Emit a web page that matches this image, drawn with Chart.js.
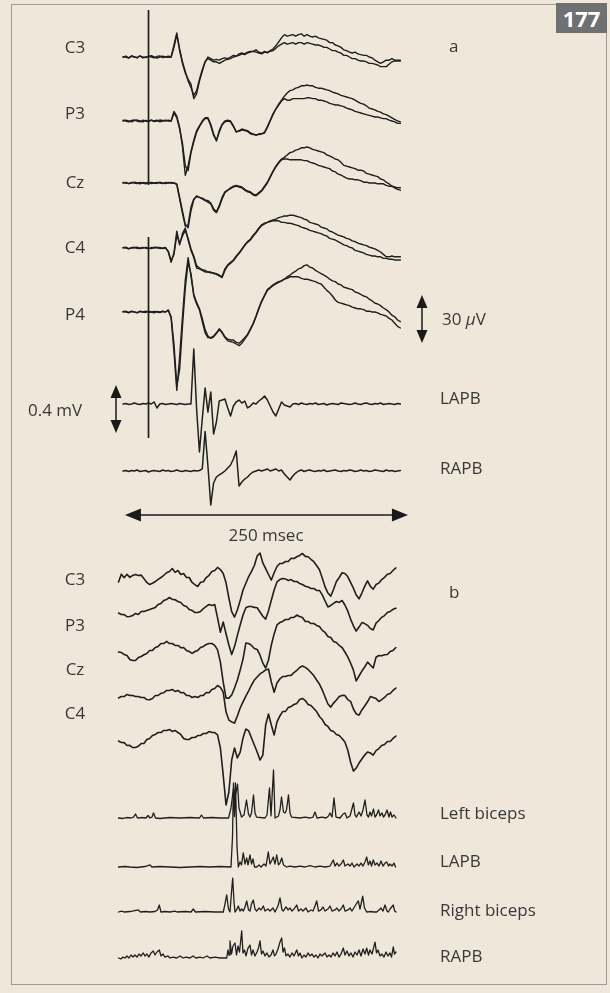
<!DOCTYPE html>
<html>
<head>
<meta charset="utf-8">
<script src="https://cdn.jsdelivr.net/npm/chart.js@4.4.1/dist/chart.umd.min.js"></script>
<style>
  html, body { margin: 0; padding: 0; background: #efe8da; }
  #fig { position: relative; width: 610px; height: 993px; overflow: hidden;
         font-family: "Open Sans", "Noto Sans", sans-serif; color: #383838; }
  #frame { position: absolute; left: 11px; top: 4px; width: 596px; height: 981px;
           border: 1.5px solid #9c9c9c; box-sizing: border-box; }
  #plot { position: absolute; left: 0; top: 0; }
  .lbl { position: absolute; font-size: 17px; line-height: 1; white-space: nowrap;
         transform: translateY(-50%); }
  .ctr { transform: translate(-50%, -50%); }
  #tag { position: absolute; left: 556px; top: 3px; width: 51px; height: 30px;
         background: #6f7072; color: #fff; font-weight: 700; font-size: 22px;
         display: flex; align-items: center; justify-content: center; }
</style>
</head>
<body>
<div id="fig">
  <div id="frame"></div>
  <canvas id="plot" width="610" height="993"></canvas>
  <div id="tag">177</div>

  <div class="lbl ctr" style="left:75px;top:46px">C3</div>
  <div class="lbl ctr" style="left:75px;top:112px">P3</div>
  <div class="lbl ctr" style="left:75px;top:181px">Cz</div>
  <div class="lbl ctr" style="left:75px;top:246px">C4</div>
  <div class="lbl ctr" style="left:75px;top:313px">P4</div>
  <div class="lbl" style="left:449px;top:45px">a</div>
  <div class="lbl" style="left:442px;top:318px">30 <i>μ</i>V</div>
  <div class="lbl" style="left:28px;top:409px">0.4 mV</div>
  <div class="lbl" style="left:440px;top:397px">LAPB</div>
  <div class="lbl" style="left:440px;top:467px">RAPB</div>
  <div class="lbl ctr" style="left:266px;top:534px">250 msec</div>

  <div class="lbl ctr" style="left:75px;top:578px">C3</div>
  <div class="lbl ctr" style="left:75px;top:624px">P3</div>
  <div class="lbl ctr" style="left:75px;top:668px">Cz</div>
  <div class="lbl ctr" style="left:75px;top:712px">C4</div>
  <div class="lbl" style="left:449px;top:591px">b</div>
  <div class="lbl" style="left:440px;top:812px">Left biceps</div>
  <div class="lbl" style="left:440px;top:860px">LAPB</div>
  <div class="lbl" style="left:440px;top:909px">Right biceps</div>
  <div class="lbl" style="left:440px;top:955px">RAPB</div>
</div>

<script>
// ---------- Panel a: averaged potentials, two superimposed averages per scalp channel ----------
// sample clock: 2.5 ms, first sample 22.5 ms before the stimulus (t = 0)
const SAMPLE_MS_A = 2.5;
const START_MS_A = -22.5;

// scalp channels, µV (positive up)
const c3Upper = [0, 0.6, -0.5, 0.4, 0, -0.6, 0.6, 0, -0.4, 0.6,
  0, -0.6, 0.4, 0.7, -0.4, 0, 0.6, 0, 7.5, 15,
  4, -4, -10, -14, -17, -26, -23, -15, -9, -3,
  0, -1, -2, -1.5, -2, -1, -0.5, -1, 0, 1,
  0.5, 2, 2.5, 2, 3, 3.5, 3.5, 4.5, 3, 2.5,
  3.5, 2.5, 4, 5, 7, 9.5, 12, 14, 13, 13.5,
  14, 13, 14, 14.5, 13, 14, 13, 12.5, 13, 12,
  11.5, 11, 10.5, 9, 9, 7.5, 7, 6, 4.5, 4,
  3, 2.5, 3, 2, 1.5, 1, 1, 0, -0.5, -2,
  -3, -4, -3, -2, -2, -1, -2, -2, -2];
const c3Lower = [0, 0, -0.7, 0.8, 0, -0.3, 0.8, -0.6, 0, 0.3,
  0.8, 0, -0.7, 0, 0.6, 0, -0.2, 0, 6, 14,
  5, -3, -9, -15, -19, -24, -21, -14, -8, -3,
  -1, -2, -3, -3, -4, -3, -2, -1.5, -1, 0,
  0.5, 1, 2, 1.5, 2.5, 3, 3.5, 3, 2.5, 2,
  3, 3, 3.5, 4, 5.5, 7, 8, 9, 8, 8.5,
  9, 8, 9, 9, 8, 9, 8.5, 8, 7.5, 7.5,
  7, 6, 6, 5, 4, 4, 3, 2.5, 1, 1,
  0, -1, -1, -2, -2.5, -2.5, -3, -4, -4, -4.5,
  -5, -6, -6, -6, -4.5, -3, -2.5, -2.5, -2.5];
const p3Upper = [0.5, 0, -0.6, 0.4, 0.6, 0, -0.5, 0.5, 0, -0.4,
  0.6, 0, 0.5, -0.5, 0, 0.6, 0, 0, 6, 3,
  -4, -16, -34, -28, -19, -12, -6, -3, 0, 2,
  2, -2, -8, -12.5, -6, -2, 0, 0.5, 0, -3,
  -7, -6, -5, -5.5, -6, -7.5, -8, -9, -8, -8,
  -7.5, -4, 0, 4, 7.5, 10.5, 13, 15.5, 17.5, 19,
  19.5, 20.5, 21, 22, 22, 22.5, 22, 22, 21, 20.5,
  20.5, 20, 19.5, 19, 18, 17.5, 17, 16, 15.5, 15,
  14.5, 14, 13, 12, 11, 10.5, 9.5, 8, 7.5, 7,
  6, 5.5, 4.5, 4, 3, 2, 1, 0, -0.5];
const p3Lower = [0, 0.5, 0, -0.5, 0.3, 0.6, 0, -0.6, 0.4, 0,
  0.5, -0.4, 0, 0.6, 0.3, 0, 0.5, 0, 5, 2,
  -5, -14, -28, -31, -20, -13, -7, -3.5, -0.5, 1.5,
  1.5, -3, -9, -12, -7, -2.5, -0.5, 0, -0.5, -3.5,
  -6.5, -6.5, -5.5, -6, -6.5, -8, -8.5, -8.5, -8.5, -8,
  -7, -3.5, 0.5, 4.5, 7.5, 10, 12.5, 14, 13, 13,
  14, 14, 14, 14, 14, 14.5, 14.5, 14, 14, 13,
  13, 12.5, 12, 11, 10.5, 10, 10, 9.5, 9, 8,
  7.5, 7, 6, 5.5, 5, 4.5, 4, 3.5, 3, 2.5,
  2.5, 2, 1.5, 1.5, 0.5, 0, -0.5, -1.5, -1.5];
const czUpper = [0, 0.4, -0.4, 0, 0.5, 0, -0.5, 0.3, 0, 0.4,
  -0.3, 0, 0.4, 0, -0.4, 0.3, 0, 0.3, 0, -0.6,
  -9, -17.5, -26, -28, -17.5, -10.5, -8, -9, -9.5, -10.5,
  -11, -12.5, -16, -18, -14, -9, -5.5, -4.5, -3, -2,
  -1.5, -2, -2.5, -4, -5, -5.5, -7, -7.5, -6, -4.5,
  -2, 0.5, 4, 7.5, 10.5, 13, 15, 16, 17.5, 19,
  19.5, 20.5, 21, 22, 22, 22.5, 22, 21, 20.5, 20,
  19.5, 19, 17.5, 17, 16, 15, 14.5, 13, 11, 10.5,
  10, 9.5, 9, 8, 8, 7.5, 6, 5.5, 5, 4.5,
  4, 2.5, 2, 0.5, -0.5, -2, -3, -4, -4.5];
const czLower = [0.3, 0, -0.4, 0.4, 0, -0.3, 0.4, 0, -0.5, 0,
  0.4, 0, -0.3, 0.5, 0, -0.4, 0.3, 0, 0, -1,
  -10, -19, -27, -26, -15, -10, -8.5, -9, -10, -11,
  -12, -13, -17, -18.5, -15, -10, -6, -4.5, -3.5, -2.5,
  -2, -2.5, -3, -4.5, -5.5, -6, -7.5, -8, -6.5, -5,
  -2.5, 0, 3.5, 7, 10, 12.5, 14.5, 15, 15, 14.5,
  14.5, 14.5, 14.5, 14.5, 14, 14, 13, 12.5, 12, 11,
  10.5, 10, 9.5, 9, 7.5, 7, 5.5, 5, 4, 3,
  2.5, 2.5, 2, 2, 1.5, 0.5, 0.5, 0, 0, 0,
  -0.5, -0.5, -0.5, -1.5, -2, -2, -2.5, -3, -3];
const c4Upper = [0, 0.5, -0.4, 0, 0.5, -0.3, 0, 0.4, 0, -0.5,
  0.3, 0, 0.5, -0.3, 0, 0.4, -2.5, -9, -3, 10.5,
  2, 9, 12.5, 5, -1.5, -6, -12.5, -13, -14, -15,
  -15, -15.5, -15.5, -16, -17, -18, -13, -10.5, -9, -7.5,
  -5, -3, -0.5, 2, 4, 5.5, 8, 10, 12.5, 14.5,
  15.5, 16, 17, 17.5, 18, 19, 19.5, 20, 20, 20.5,
  20.5, 20, 19.5, 19, 18, 17.5, 16, 15.5, 15, 14.5,
  13, 12.5, 12, 10.5, 10, 9, 8, 7.5, 7, 6,
  5.5, 4.5, 4, 3, 2.5, 2, 1.5, 0.5, 0, -0.5,
  -1.5, -2.5, -4, -5.5, -5.5, -5, -5.5, -5.5, -5.5];
const c4Lower = [0.4, 0, -0.5, 0.3, 0, 0.5, -0.4, 0, 0.4, 0,
  -0.4, 0.5, 0, 0.3, -0.4, 0, -2, -8, -4, 8,
  3, 7.5, 11, 6, -0.5, -5, -11, -12.5, -13.5, -14,
  -15, -15, -16, -16.5, -17.5, -18.5, -14, -11, -9.5, -8,
  -5.5, -3.5, -1, 1.5, 3.5, 5, 7.5, 9.5, 12, 14,
  15, 16, 16.5, 17, 17, 17, 16, 16, 15.5, 15.5,
  15, 14.5, 14, 13, 12.5, 12, 11, 10.5, 10, 9.5,
  9, 8, 7.5, 6, 5.5, 5, 4, 3, 2, 1.5,
  0.5, 0, -1.5, -2, -2.5, -3, -4, -4.5, -5, -5,
  -5.5, -5.5, -6.5, -6.5, -7, -7, -7.5, -7.5, -7.5];
const p4Upper = [0, 0.5, -0.5, 0.3, 0, -0.4, 0.5, 0, -0.3, 0.5,
  0, -0.5, 0.4, 0, 0.5, 0, 1.3, -4, -25, -49,
  -28, -3, 20, 34, 22.5, 10, 5, 1.3, -6, -13,
  -16, -16, -15, -13, -10.5, -12.5, -15.5, -17, -17.5, -17.5,
  -19, -19.5, -18, -16, -14, -10.5, -7, -2.5, 2.5, 7,
  10.5, 14, 15.5, 17, 18, 19, 19.5, 20.5, 22, 23,
  24.5, 25.5, 27, 27.5, 29, 29.5, 28, 27.5, 26, 25,
  24, 23, 22, 20.5, 19.5, 19, 17.5, 17, 15.5, 15,
  14.5, 14, 12.5, 12, 11, 10, 9.5, 8, 7, 5.5,
  5, 4, 2.5, 1.5, 0, -2, -3, -5, -6];
const p4Lower = [0.4, 0, -0.3, 0.5, 0, -0.5, 0.3, 0, 0.5, -0.3,
  0, 0.4, 0, -0.4, 0.3, 0, 1, -3, -20, -46,
  -36, -9, 15, 31, 24, 11, 6, 2, -4, -11,
  -15, -16.5, -15.5, -13.5, -11, -13, -16, -18, -18.5, -19,
  -20, -21, -19.5, -17, -14.5, -11, -7.5, -3, 2, 6.5,
  10, 13.5, 15, 16.5, 17.5, 18.5, 19.5, 20.5, 21, 22,
  22, 22, 22, 21, 20.5, 20.5, 20, 19.5, 19, 18,
  17.5, 15.5, 13.5, 12, 10, 7.5, 6, 5.5, 5, 4.5,
  4, 3, 2.5, 2, 2, 1.5, 0.5, 0.5, 0, 0,
  -0.5, -1.5, -2, -2.5, -4, -5, -7, -9, -10];

// thenar muscle responses, µV
const lapbA = [0, 4, -4, 0, 8, 0, -4, 4, 0, 8,
  0, 17, -33, 0, 4, -4, 0, 4, 0, -4,
  4, 0, -4, 0, 0, 458, -42, -400, -125, 133,
  -67, 100, -250, -150, 25, 33, 42, -33, -100, -17,
  17, 33, 8, 25, -33, -17, 8, 0, 25, 42,
  67, 33, -17, -67, -100, -42, 17, -8, -17, -25,
  0, 4, -4, 8, 0, -4, 4, 0, 8, -4,
  0, 4, -8, 0, 4, 0, -4, 8, 4, 0,
  -4, 0, 8, 0, -4, 4, 8, 0, -4, 4,
  0, 8, -4, 0, 4, 0, -4, 4, 0];
const rapbA = [0, 4, -4, 4, 0, 8, -4, 0, 4, -8,
  0, 4, 0, -4, 8, 0, 4, -4, 0, 8,
  0, -4, 4, 0, -4, 4, 0, 4, 17, 330,
  42, -283, -100, -50, -33, -17, 0, 25, 50, 100,
  167, -125, -92, -67, -50, -25, -8, 0, 8, 0,
  8, 17, 0, 8, 17, 0, 8, -25, -50, -75,
  -42, -17, 0, 8, -4, 4, 8, 0, -4, 4,
  0, 8, -4, 0, 4, 8, 0, -4, 4, 0,
  8, 4, -4, 0, 8, 0, 4, -4, 0, 8,
  4, 0, -4, 8, 0, 4, -4, 0, 4];

// calibration bars
const CAL_EEG_UV = 30;      // "30 µV"
const CAL_EMG_UV = 400;     // "0.4 mV"
const CAL_TIME_MS = 250;    // "250 msec"

// ---------- Panel b: single sweep, 2.83 ms sample clock ----------
const SAMPLE_MS_B = 2.83;
const eegB1 = [-2.5, 2.4, 0.2, 2.3, 0.4, 1.6, 2.2, 1.6, 1.8, -0.4,
  -2.8, -4.1, -3.3, -2.2, -0.9, 0.3, 1.7, 3.3, 4.1, 5.9,
  3.5, 4.7, 2.2, 2.8, 0.3, 0.3, -2.8, -4.1, -5.3, -2.7,
  -2.3, 0.3, 1.7, 4.1, 4.7, 6.6, 5.3, 2.8, -3, -12.5,
  -21, -24.4, -20, -14, -7.5, -3.3, 0.9, 4.1, 7.8, 13.8,
  15.6, 9.4, 5.9, 2.2, -1.3, 3.3, 7.2, 9.1, 9.1, 10.3,
  10.3, 12.3, 12.2, 13.3, 14.1, 15.3, 13.5, 13.3, 11.7, 10.2,
  7.8, 5.2, 0, -5.6, -9.4, -11.3, -7, -2.2, 0.3, 3.3,
  2.8, 0.9, -2.7, -6.3, -10.6, -13, -9.4, -5.2, -1.8, -5.2,
  -7, -4.1, -3.2, -1, 0.4, 2.3, 2.8, 4.7, 6.3];
const eegB2 = [0, -0.9, -1, -2.3, -2.2, -1.6, -0.3, -0.9, 0.9, 1,
  1.6, 2.2, 2.8, 3.5, 5.3, 6, 7.8, 8.5, 9.7, 8.5,
  8.3, 7.2, 6.6, 4.7, 4.1, 2.2, 1.6, 0.3, 0.3, 1,
  2.8, 4.1, 5.3, 4.7, 5.3, -3, -12, -5.6, -13, -20,
  -26, -21, -14, -7.5, -1.3, 3.3, 4.1, 4.1, 3.5, 3.3,
  0.6, -2, -3.8, 1.3, 8, 14.4, 19.4, 20.9, 21.6, 21.3,
  20.3, 20.9, 19.7, 19.7, 18.5, 17.8, 16.7, 16.3, 15.3, 15.3,
  14.1, 14.1, 11.3, 7.5, 3.8, 4.7, 6, 7.2, 6.6, 7.8,
  5, 1.3, -3.8, -8, -11.3, -8.8, -6, -6.6, -7.7, -9.7,
  -10.6, -6.3, -4.7, -2.7, -1.6, 0.3, 1, 2.3, 3];
const eegB3 = [0, -0.3, -1.6, -2.2, -4.7, -5.3, -5.3, -3.5, -2.8, -1.7,
  -0.9, 0.9, 1, 2.8, 3.5, 5.3, 5.3, 6.6, 5.3, 5.3,
  4.1, 4.1, 2.7, 2.8, 1, 0.3, -0.9, 0.3, 1, 2.8,
  3.5, 4.7, 5.3, 5.3, 4.1, 1.3, -6.3, -18.8, -28.8, -28.8,
  -26.9, -22.5, -17.5, -11.3, -4.4, 5.6, 5.3, 4.1, 2.2, 1.6,
  -2, -6.9, -10, -5, 4.4, 11.3, 16.9, 18.4, 19.1, 20.3,
  20.3, 21.6, 21.6, 23.1, 22.2, 21.6, 19.1, 19.1, 17.8, 17.8,
  16.6, 15.9, 13.5, 12.2, 9.7, 9.1, 6.6, 5.9, 4.1, 2.8,
  0, -3, -6.9, -11.3, -18.1, -15, -11.9, -9.4, -6.3, -8.1,
  -10, -3.3, -2.2, -2.3, -1.7, -1.6, 0.3, 1, 2.8];
const eegB4 = [-0.6, 0.3, 0.3, 1.6, 1, 0.9, 0.3, 0.3, -0.3, -0.3,
  -1.6, -1.7, -0.9, 0.9, 1, 2.3, 2.7, 4.1, 4.1, 4.7,
  3.5, 4.1, 2.7, 2.8, 1, 0.9, -0.3, 0.3, -0.3, 0.9,
  1, 2.8, 2.7, 4.7, 5.3, 7.2, 6, 3, -9.4, -14.4,
  -15.6, -16.3, -11.9, -6.9, -3, 0.6, 3.8, 7.5, 10.6, 12.5,
  14.4, 15.6, 16.9, 17.5, 9.4, 3, 8.8, 11.3, 12.8, 12.8,
  13.4, 13.5, 15.3, 16.6, 18.4, 19.4, 18.5, 17.2, 15.3, 13.4,
  10.6, 8.1, 4.4, 0, -4.4, -6.3, -3.8, -1.9, 0.3, 1,
  0.9, -1.6, -2.7, -7.5, -10.6, -11.3, -8.1, -5.6, -3, 0.3,
  -0.3, -1, -2.8, -1.6, -0.3, 1.6, 2.2, 4.1, 5.6];
const eegB5 = [0, -0.9, -1, -2.8, -2.7, -4.1, -4.1, -3.3, -1.6, -1.6,
  0.9, 1.6, 3.4, 4.1, 5.3, 5.3, 6.6, 6.6, 7.2, 6,
  6.6, 5.3, 4.1, 1.6, 0.9, 1, 2.2, 2.2, 3.4, 3.5,
  4.7, 4.7, 5.9, 5.3, 5.3, 3.8, -4.4, -21.3, -40, -31.9,
  -11.9, -4.4, -10.6, -6.9, 1.9, 7.5, 6.3, 1.9, -2.5, -6.9,
  -11.9, -8.8, 10, 16.9, 10, 3.8, 11.9, 15.6, 18.4, 18.5,
  20.9, 21.6, 22.8, 23.5, 25.9, 26.6, 25.3, 22.8, 22.2, 20.3,
  18.4, 15.3, 13.4, 10.3, 9.1, 6.6, 5.9, 4.1, 3.4, 1.6,
  -0.6, -5.6, -13.1, -18.8, -16.9, -13.8, -11.3, -8.8, -6.9, -7.5,
  -8.8, -6, -4.7, -2.8, -2.2, -0.3, -0.3, 1.6, 3.1];

// rectified EMG, event times (ms) and amplitudes (µV)
const leftBicepsMs = [0, 4.5, 8.5, 12.5, 15, 17, 19, 22.5, 27.5, 29.5,
  31.5, 33.5, 35, 37, 41.5, 51.5, 61.5, 71.5, 81, 83,
  85, 93.5, 101.5, 110, 112.5, 115, 116.5, 119, 120.5, 123,
  125.5, 128, 130, 131.5, 133, 135, 136.5, 138, 146.5, 148.5,
  151, 152.5, 155, 156.5, 160, 161.5, 163, 165, 166.5, 168,
  170, 171.5, 173, 181.5, 186.5, 191.5, 194.5, 196.5, 198.5, 203.5,
  207.5, 210, 211.5, 213.5, 215.5, 217.5, 221.5, 224.5, 226.5, 228.5,
  231.5, 235, 236.5, 238, 240.5, 242.5, 244.5, 246.5, 248.5, 250,
  251.5, 253, 255, 256.5, 258, 260, 261.5, 263.5, 265, 266.5,
  268.5, 270.5, 272, 273.5, 275.5, 277.5];
const leftBicepsUv = [0, -4, 4, 0, 8, 33, 0, 4, 0, 21,
  0, 8, 42, 0, -4, 4, 0, 4, 0, 25,
  0, 4, 0, 0, 83, 250, 170, 283, 83, 8,
  25, 150, 33, 8, 42, 192, 42, 8, 0, 25,
  250, 17, 400, 0, 17, 67, 175, 50, 42, 67,
  192, 42, 8, 0, 8, 0, 8, 50, 0, 8,
  0, 17, 42, 8, 167, 8, 0, 33, 42, 0,
  17, 125, 25, 8, 50, 17, 67, 150, 25, 8,
  50, 17, 75, 8, 25, 67, 17, 42, 8, 25,
  67, 8, 50, 8, 25, 0];
const lapbBMs = [0, 6.5, 11.5, 18.5, 26.5, 31.5, 33.5, 41.5, 51.5, 61.5,
  71.5, 81.5, 91.5, 101.5, 112.5, 114, 115, 116, 117, 118.5,
  119.8, 121.5, 123, 124.8, 126.5, 128.2, 129.5, 131.5, 133, 134.5,
  136, 138.2, 140.5, 142.5, 145.5, 147.5, 149.8, 151.5, 153, 154.8,
  156.5, 158.2, 160, 161.5, 163.2, 165, 168.2, 171.5, 176.5, 181.5,
  186.5, 191.5, 196.5, 201.5, 206.5, 211.5, 214.8, 216.5, 218.5, 220.5,
  222.5, 224.8, 226.5, 229.5, 231.5, 233.5, 235.5, 238.5, 240.5, 242.5,
  244.5, 246.5, 248.2, 249.8, 251.5, 253, 254.8, 256.5, 258.5, 260.5,
  262.5, 264.5, 266.5, 268.2, 270, 271.5, 273.5, 275.5, 277];
const lapbBUv = [0, 4, 0, -4, 4, 17, 0, 4, 0, -4,
  0, 4, 0, 4, 0, 250, 700, 420, 700, 170,
  0, 42, 17, 117, 25, 75, 17, 100, 25, 67,
  0, 0, 17, 0, 25, 8, 125, 25, 50, 83,
  25, 100, 17, 33, 75, 17, 0, 8, 0, 8,
  0, 12, 0, 8, 0, 8, 58, 8, 33, 8,
  25, 58, 8, 25, 8, 33, 0, 25, 8, 33,
  8, 42, 83, 17, 50, 8, 58, 17, 33, 8,
  50, 8, 33, 42, 8, 25, 8, 33, 0];
const rightBicepsMs = [0, 3.2, 5.5, 11.5, 19.8, 22, 26.5, 31.5, 36.5, 39,
  40.8, 42.5, 46.5, 51.5, 56.5, 58.5, 66.5, 72.5, 74.8, 77,
  86.5, 96.5, 104.8, 106.5, 108.2, 110, 111.5, 113, 114.2, 115.5,
  116.5, 118, 119.8, 121.5, 123, 124.8, 126.5, 128.2, 130, 131.5,
  133, 134.8, 136.5, 138.2, 140.5, 142.5, 144.8, 146.5, 149.5, 151.5,
  154.5, 156.5, 159.5, 161.5, 163.5, 164.8, 167.5, 169.5, 171.5, 173.5,
  175.5, 178.2, 180, 182.5, 184.5, 187.5, 189.5, 192.5, 194.5, 196.5,
  198.2, 200, 202.5, 204.5, 206.5, 209.5, 211.5, 213.5, 216.5, 218.5,
  220.5, 222.5, 224.8, 226.5, 229.5, 231.5, 233.5, 236.5, 239.8, 241.5,
  244.2, 246, 248.2, 251.5, 255.5, 258.2, 260.5, 262.5, 264.5, 266.5,
  268.5, 269.8, 271.5, 273.2, 274.8, 276.2, 277.5];
const rightBicepsUv = [0, 8, 0, 4, 17, 0, 4, 0, 4, 17,
  58, 0, 4, 0, 8, 0, 4, 0, 25, 0,
  4, 0, 0, 67, 142, 25, 0, 167, 283, 83,
  0, 17, 50, 8, 25, 8, 42, 92, 17, 8,
  67, 100, 25, 8, 33, 17, 50, 8, 25, 8,
  33, 0, 50, 117, 17, 8, 42, 17, 33, 8,
  25, 58, 8, 25, 8, 33, 0, 17, 8, 50,
  92, 8, 17, 42, 8, 25, 50, 8, 17, 33,
  8, 25, 58, 8, 17, 33, 8, 50, 92, 25,
  133, 33, 0, 4, 0, 0, 17, 33, 8, 58,
  8, 0, 25, 42, 58, 8, 0];
const rapbBMs = [0, 2.5, 4.5, 6.5, 8.5, 10.5, 12.5, 14.5, 16.5, 18.5,
  20.5, 22.5, 24.8, 26.5, 28.5, 30.5, 32.5, 34.8, 36.5, 38.5,
  40.8, 42.5, 44.5, 46.5, 49.5, 51.5, 54.5, 58.2, 61.5, 64.5,
  67.5, 71.5, 74.5, 77.5, 81.5, 84.5, 88.5, 91.5, 96.5, 101.5,
  108.2, 109.5, 110.5, 111.5, 113, 114.5, 116.5, 118, 119.5, 121,
  123.2, 124.5, 126, 127.5, 129.5, 131.5, 133, 134.5, 136.5, 138.5,
  140, 141.5, 143, 144.5, 146.5, 148.5, 150.5, 152.5, 154.5, 156,
  157.5, 159.5, 161.5, 163.2, 164.5, 166, 167.5, 169.5, 171.5, 173.5,
  175.5, 178.2, 180, 181.5, 183.5, 185.5, 187.5, 189.5, 191.5, 193.5,
  195.5, 197.5, 199.5, 201.5, 203.5, 206.5, 208.5, 210.5, 212.5, 214.5,
  216.5, 218.5, 220.5, 222.5, 224.8, 226.5, 228.5, 230.5, 232.5, 234.5,
  236.5, 238.5, 240.5, 242.5, 244.5, 246.5, 248.2, 250, 251.5, 253.5,
  255, 256.5, 258, 259.5, 261.5, 263.5, 265.5, 267.5, 269.5, 271.5,
  273, 274.8, 276, 277.5];
const rapbBUv = [0, -8, 8, 0, 17, 0, 25, 8, 25, 8,
  33, 17, 42, 17, 33, 8, 42, 58, 25, 50,
  67, 17, 33, 8, 17, 0, 8, 0, 17, 0,
  8, 0, 17, 0, 8, 0, 17, 0, 8, 0,
  0, 67, 25, 142, 33, 100, 125, 25, 100, 50,
  225, 42, 67, 17, 83, 108, 25, 67, 17, 50,
  83, 142, 33, 58, 17, 42, 8, 25, 67, 17,
  33, 75, 133, 167, 50, 83, 17, 33, 8, 42,
  17, 67, 17, 42, 0, 25, 8, 42, 17, 33,
  8, 25, 0, 33, 17, 42, 8, 25, 8, 42,
  17, 50, 8, 33, 83, 25, 58, 17, 42, 8,
  50, 25, 67, 17, 75, 33, 83, 25, 67, 33,
  83, 133, 42, 67, 17, 33, 8, 50, 17, 42,
  8, 92, 33, 50];

// ---------- layout ----------
const W = 610, H = 993;
const PX_PER_UV = 1.6;                    // vertical display gain for EEG
const EMG_GAIN = CAL_EEG_UV / CAL_EMG_UV; // EMG drawn so 0.4 mV matches 30 µV
const PX_PER_MS_A = 1.132;
const STIM_PX_A = 148.5;                  // stimulus position, panel a
const PX_PER_MS_B = 1.0;
const START_PX_B = 118.5;

// channel baselines (px from top)
const ROW_A = { C3: 57, P3: 121, Cz: 183, C4: 248, P4: 312, LAPB: 404, RAPB: 471 };
const ROW_B = { e1: 578, e2: 613, e3: 652, e4: 697, e5: 741, lb: 818, lapb: 867, rb: 912, rapb: 958 };

const rowValue = px => -px / PX_PER_UV;
const timeA = c3Upper.map((_, i) => START_MS_A + i * SAMPLE_MS_A);
const timeB = eegB1.map((_, i) => i * SAMPLE_MS_B);

const INK = '#1f1f1f';
function trace(xAxis, times, values, basePx, gain, width) {
  const off = rowValue(basePx);
  return {
    xAxisID: xAxis, yAxisID: 'y',
    data: values.map((v, i) => ({ x: times[i], y: off + v * gain })),
    borderColor: INK, borderWidth: width, pointRadius: 0,
    tension: 0, fill: false, borderJoinStyle: 'round', borderCapStyle: 'round'
  };
}

const datasets = [
  trace('xa', timeA, c3Upper, ROW_A.C3, 1, 1.4),
  trace('xa', timeA, c3Lower, ROW_A.C3, 1, 1.4),
  trace('xa', timeA, p3Upper, ROW_A.P3, 1, 1.4),
  trace('xa', timeA, p3Lower, ROW_A.P3, 1, 1.4),
  trace('xa', timeA, czUpper, ROW_A.Cz, 1, 1.4),
  trace('xa', timeA, czLower, ROW_A.Cz, 1, 1.4),
  trace('xa', timeA, c4Upper, ROW_A.C4, 1, 1.4),
  trace('xa', timeA, c4Lower, ROW_A.C4, 1, 1.4),
  trace('xa', timeA, p4Upper, ROW_A.P4, 1, 1.4),
  trace('xa', timeA, p4Lower, ROW_A.P4, 1, 1.4),
  trace('xa', timeA, lapbA, ROW_A.LAPB, EMG_GAIN, 1.5),
  trace('xa', timeA, rapbA, ROW_A.RAPB, EMG_GAIN, 1.5),
  trace('xb', timeB, eegB1, ROW_B.e1, 1, 1.6),
  trace('xb', timeB, eegB2, ROW_B.e2, 1, 1.6),
  trace('xb', timeB, eegB3, ROW_B.e3, 1, 1.6),
  trace('xb', timeB, eegB4, ROW_B.e4, 1, 1.6),
  trace('xb', timeB, eegB5, ROW_B.e5, 1, 1.6),
  trace('xb', leftBicepsMs, leftBicepsUv, ROW_B.lb, EMG_GAIN, 1.3),
  trace('xb', lapbBMs, lapbBUv, ROW_B.lapb, EMG_GAIN, 1.3),
  trace('xb', rightBicepsMs, rightBicepsUv, ROW_B.rb, EMG_GAIN, 1.3),
  trace('xb', rapbBMs, rapbBUv, ROW_B.rapb, EMG_GAIN, 1.3)
];

// stimulus marker segments (px from top) and calibration bar placement
const STIM_SEGMENTS = [[10, 185], [237, 438]];
const CAL_EEG_AT = { ms: 241.6, centerPx: 319 };
const CAL_EMG_AT = { ms: -28.7, centerPx: 409 };
const CAL_TIME_AT = { startMs: -20.8, px: 515 };

function vArrow(ctx, x, yTop, yBot) {
  const hl = 13, hw = 5.5;
  ctx.beginPath(); ctx.moveTo(x, yTop + hl - 1); ctx.lineTo(x, yBot - hl + 1); ctx.stroke();
  ctx.beginPath(); ctx.moveTo(x, yTop); ctx.lineTo(x - hw, yTop + hl); ctx.lineTo(x + hw, yTop + hl); ctx.closePath(); ctx.fill();
  ctx.beginPath(); ctx.moveTo(x, yBot); ctx.lineTo(x - hw, yBot - hl); ctx.lineTo(x + hw, yBot - hl); ctx.closePath(); ctx.fill();
}
function hArrow(ctx, xL, xR, y) {
  const hl = 16, hw = 6.5;
  ctx.beginPath(); ctx.moveTo(xL + hl - 1, y); ctx.lineTo(xR - hl + 1, y); ctx.stroke();
  ctx.beginPath(); ctx.moveTo(xL, y); ctx.lineTo(xL + hl, y - hw); ctx.lineTo(xL + hl, y + hw); ctx.closePath(); ctx.fill();
  ctx.beginPath(); ctx.moveTo(xR, y); ctx.lineTo(xR - hl, y - hw); ctx.lineTo(xR - hl, y + hw); ctx.closePath(); ctx.fill();
}

const marks = {
  id: 'marks',
  beforeDatasetsDraw(chart) {
    const { ctx, scales: { xa, y } } = chart;
    ctx.save();
    ctx.strokeStyle = INK; ctx.lineWidth = 1.7;
    const x0 = xa.getPixelForValue(0);
    STIM_SEGMENTS.forEach(([a, b]) => {
      ctx.beginPath();
      ctx.moveTo(x0, y.getPixelForValue(rowValue(a)));
      ctx.lineTo(x0, y.getPixelForValue(rowValue(b)));
      ctx.stroke();
    });
    ctx.restore();
  },
  afterDatasetsDraw(chart) {
    const { ctx, scales: { xa, y } } = chart;
    ctx.save();
    ctx.strokeStyle = '#1a1a1a'; ctx.fillStyle = '#1a1a1a'; ctx.lineWidth = 1.5;
    // 30 µV
    let c = rowValue(CAL_EEG_AT.centerPx);
    vArrow(ctx, xa.getPixelForValue(CAL_EEG_AT.ms),
      y.getPixelForValue(c + CAL_EEG_UV / 2), y.getPixelForValue(c - CAL_EEG_UV / 2));
    // 0.4 mV
    c = rowValue(CAL_EMG_AT.centerPx);
    vArrow(ctx, xa.getPixelForValue(CAL_EMG_AT.ms),
      y.getPixelForValue(c + CAL_EMG_UV * EMG_GAIN / 2), y.getPixelForValue(c - CAL_EMG_UV * EMG_GAIN / 2));
    // 250 msec
    const yy = y.getPixelForValue(rowValue(CAL_TIME_AT.px));
    hArrow(ctx, xa.getPixelForValue(CAL_TIME_AT.startMs),
      xa.getPixelForValue(CAL_TIME_AT.startMs + CAL_TIME_MS), yy);
    ctx.restore();
  }
};

new Chart(document.getElementById('plot'), {
  type: 'line',
  data: { datasets },
  options: {
    responsive: false, animation: false, devicePixelRatio: 1,
    layout: { padding: 0 },
    plugins: { legend: { display: false }, tooltip: { enabled: false }, title: { display: false } },
    scales: {
      xa: { type: 'linear', display: false, min: -STIM_PX_A / PX_PER_MS_A, max: (W - STIM_PX_A) / PX_PER_MS_A },
      xb: { type: 'linear', display: false, min: -START_PX_B / PX_PER_MS_B, max: (W - START_PX_B) / PX_PER_MS_B },
      y:  { type: 'linear', display: false, min: rowValue(H), max: 0 }
    }
  },
  plugins: [marks]
});
</script>
</body>
</html>
